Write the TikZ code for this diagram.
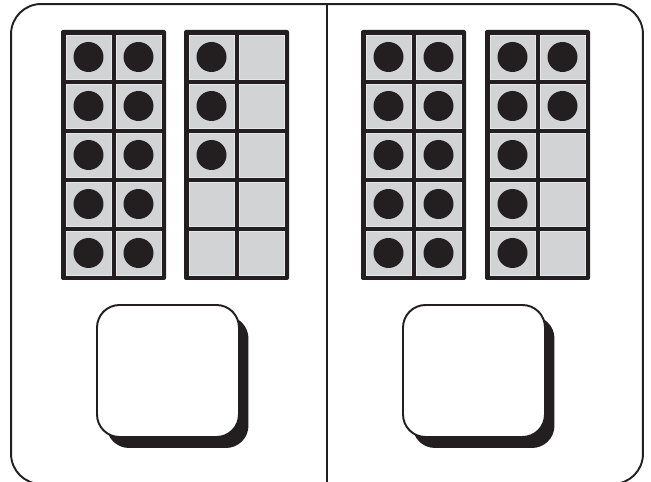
\documentclass[tikz,border=0pt]{standalone}
\usepackage{xcolor}
\usepackage{tikz}
\usetikzlibrary{shadows}
\definecolor{frameink}{HTML}{231F20}
\definecolor{cellgray}{HTML}{D1D3D4}
\tikzset{
  panelframe/.style={draw=frameink,line width=1.1pt,rounded corners=0.6cm,
    minimum width=12.64cm,minimum height=9.6cm,inner sep=0pt},
  divider/.style={draw=frameink,line width=1.1pt},
  frameback/.style={fill=frameink,rounded corners=0.4mm},
  cellsq/.style={fill=cellgray,draw=cellgray!55!white,line width=0.3pt},
  dotmark/.style={fill=frameink},
  answerbox/.style={draw=frameink,fill=white,line width=1.1pt,rounded corners=0.45cm,
    minimum width=2.84cm,minimum height=2.64cm,inner sep=0pt,
    drop shadow={shadow xshift=0.19cm,shadow yshift=-0.22cm,opacity=1,fill=frameink}},
}
\begin{document}
\begin{tikzpicture}[x=0.02cm,y=-0.02cm]
  \useasboundingbox (0,0) rectangle (651,482);
  \begin{scope}
    \clip (0,0) rectangle (651,482);
    \node[panelframe] (panel) at (327,244) {};
    \draw[divider] (panel.north) -- (panel.south);
  \end{scope}
  % ten frames: left x, dots in left column, dots in right column
  \foreach \fx/\nl/\nr in {61/5/5, 184/3/0, 361/5/5, 485/5/2} {
    \fill[frameback] (\fx,30) rectangle ++(105,250);
    \foreach \c in {0,1}
      \foreach \r in {0,...,4}
        \filldraw[cellsq] (\fx+5+\c*50,35+\r*49) rectangle ++(45,44);
    \foreach \r in {0,...,4} {
      \ifnum\r<\nl \fill[dotmark] (\fx+27.5,57+\r*49) circle[radius=0.3cm];\fi
      \ifnum\r<\nr \fill[dotmark] (\fx+77.5,57+\r*49) circle[radius=0.3cm];\fi
    }
  }
  \node[answerbox] (boxL) at (168,371) {};
  \node[answerbox] (boxR) at (474,371) {};
\end{tikzpicture}
\end{document}
